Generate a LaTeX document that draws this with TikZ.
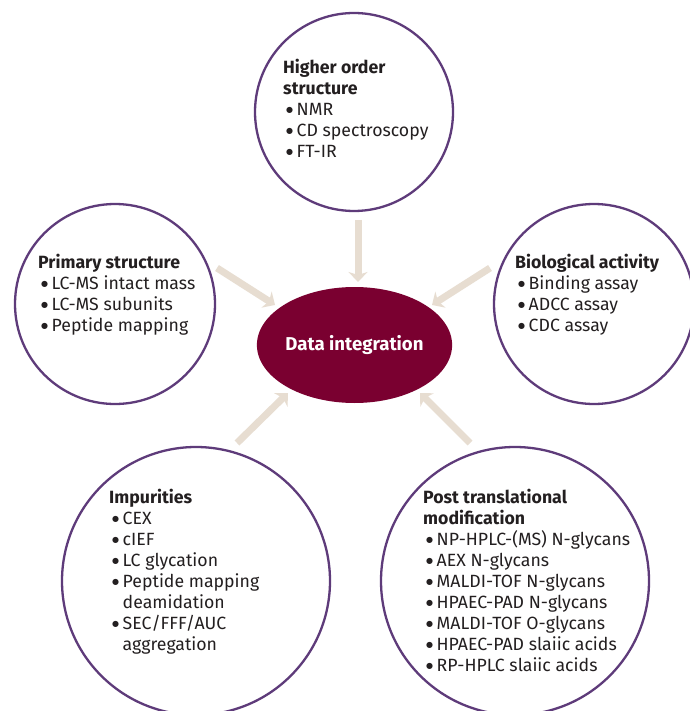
\documentclass[tikz,border=0pt]{standalone}
\usepackage{fontspec}
\setmainfont{Fira Sans}
\newfontfamily\dejavu{DejaVu Sans}
\usetikzlibrary{shapes.geometric,arrows.meta}
\definecolor{ringc}{HTML}{5E3B7A}
\definecolor{wine}{HTML}{7A0030}
\definecolor{beige}{HTML}{E7DDD1}
\definecolor{txt}{HTML}{231F20}
\newcommand{\blt}{{\dejavu\fontsize{8}{10}\selectfont\raisebox{2.2pt}{●}}}
\newcommand{\itm}[1]{\hspace*{3pt}\makebox[10.5pt][l]{\blt}#1}
\newcommand{\cnt}[1]{\hspace*{13.5pt}#1}
\begin{document}
\begin{tikzpicture}[x=1pt,y=-1pt,
 ring/.style={circle,draw=ringc,line width=2.3pt,inner sep=0pt,fill=white},
 blk/.style={anchor=north west,inner sep=0pt,align=left,text=txt,font=\fontsize{17.7}{21}\selectfont},
 feed/.style={draw=beige,line width=7pt,-{Stealth[length=10pt,width=19pt,inset=3pt]}}]
\useasboundingbox[fill=white] (0,0) rectangle (689,711);
% circles
\node[ring,minimum size=198pt] (hos) at (354,112) {};
\node[ring,minimum size=200pt] (prim) at (115,304) {};
\node[ring,minimum size=200pt] (bio) at (594,304) {};
\node[ring,minimum size=268pt] (imp) at (196,581) {};
\node[ring,minimum size=268pt] (ptm) at (515,581) {};
% centre
\node[ellipse,fill=wine,minimum width=175pt,minimum height=116pt,inner sep=0pt,text=white,font=\bfseries\fontsize{18.6}{20}\selectfont] (data) at (354.5,345) {Data integration};
% texts
\node[blk] (hosT) at (283,58.5) {\textbf{Higher order}\\\textbf{structure}\\\itm{NMR}\\\itm{CD spectroscopy}\\\itm{FT-IR}};
\node[blk] (primT) at (38,253.5) {\textbf{Primary structure}\\\itm{LC-MS intact mass}\\\itm{LC-MS subunits}\\\itm{Peptide mapping}};
\node[blk] (bioT) at (515,253.5) {\textbf{Biological activity}\\\itm{Binding assay}\\\itm{ADCC assay}\\\itm{CDC assay}};
\node[blk] (impT) at (109,488.5) {\textbf{Impurities}\\\itm{CEX}\\\itm{cIEF}\\\itm{LC glycation}\\\itm{Peptide mapping}\\\cnt{deamidation}\\\itm{SEC/FFF/AUC}\\\cnt{aggregation}};
\node[blk] (ptmT) at (423,488.5) {\textbf{Post translational}\\\textbf{modification}\\\itm{NP-HPLC-(MS) N-glycans}\\\itm{AEX N-glycans}\\\itm{MALDI-TOF N-glycans}\\\itm{HPAEC-PAD N-glycans}\\\itm{MALDI-TOF O-glycans}\\\itm{HPAEC-PAD slaiic acids}\\\itm{RP-HPLC slaiic acids}};
% arrows
\coordinate (a1s) at (358,220); \coordinate (a1e) at (358,282);
\coordinate (a2s) at (217,268); \coordinate (a2e) at (275,305);
\coordinate (a3s) at (490,268); \coordinate (a3e) at (432,305);
\coordinate (a4s) at (237,443); \coordinate (a4e) at (288,393);
\coordinate (a5s) at (470,443); \coordinate (a5e) at (420,393);
\draw[feed] (a1s) -- (a1e);
\draw[feed] (a2s) -- (a2e);
\draw[feed] (a3s) -- (a3e);
\draw[feed] (a4s) -- (a4e);
\draw[feed] (a5s) -- (a5e);
\end{tikzpicture}
\end{document}
